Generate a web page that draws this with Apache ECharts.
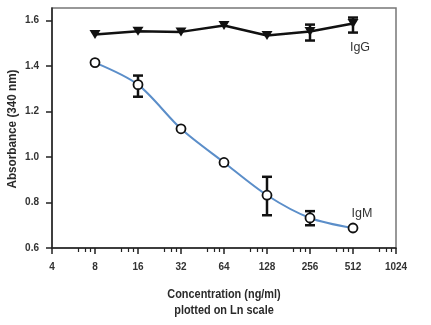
<!DOCTYPE html>
<html><head><meta charset="utf-8">
<script src="https://cdn.jsdelivr.net/npm/echarts@6/dist/echarts.min.js"></script>
<style>html,body{margin:0;padding:0;background:#fff}#c{width:431px;height:325px}</style>
</head><body><div id="c"></div>
<script>
const concentrations = [8, 16, 32, 64, 128, 256, 512];
const igG = [1.538, 1.553, 1.55, 1.578, 1.534, 1.552, 1.587];
const igM = [1.415, 1.318, 1.124, 0.976, 0.832, 0.732, 0.688];
const igGErrLow  = [null, null, null, null, null, 1.512, 1.547];
const igGErrHigh = [null, null, null, null, null, 1.582, 1.613];
const igMErrLow  = [null, 1.265, null, null, 0.744, 0.700, null];
const igMErrHigh = [null, 1.358, null, null, 0.913, 0.762, null];
const xTicks = [4, 8, 16, 32, 64, 128, 256, 512, 1024];
const yTicks = [0.6, 0.8, 1.0, 1.2, 1.4, 1.6];
const minorFactors = [1.52, 1.72, 1.84];
const xTitle = 'Concentration (ng/ml)\nplotted on Ln scale';
const yTitle = 'Absorbance (340 nm)';

const FONT = '"Liberation Sans", Arial, sans-serif';
const minorTicks = [];
xTicks.slice(0, -1).forEach(b => minorFactors.forEach(f => minorTicks.push(b * f)));

function errData(lo, hi) {
  const out = [];
  concentrations.forEach((c, i) => { if (lo[i] != null) out.push([c, lo[i], hi[i]]); });
  return out;
}
function errRender(params, api) {
  const x = api.value(0);
  const p1 = api.coord([x, api.value(1)]);
  const p2 = api.coord([x, api.value(2)]);
  const w = 5;
  const st = { stroke: '#111', lineWidth: 2.5 };
  return { type: 'group', children: [
    { type: 'line', shape: { x1: p1[0], y1: p1[1], x2: p2[0], y2: p2[1] }, style: st },
    { type: 'line', shape: { x1: p1[0] - w, y1: p1[1], x2: p1[0] + w, y2: p1[1] }, style: st },
    { type: 'line', shape: { x1: p2[0] - w, y1: p2[1], x2: p2[0] + w, y2: p2[1] }, style: st }
  ]};
}

const chart = echarts.init(document.getElementById('c'), null, { renderer: 'canvas' });
const lastIdx = concentrations.length - 1;
const seriesLabel = (txt, off) => ({ show: true, formatter: txt, position: 'inside', offset: off,
  color: '#333', fontFamily: FONT, fontSize: 12.5 });
chart.setOption({
  animation: false,
  grid: { left: 52, right: 35, top: 8, bottom: 77, show: true, borderColor: '#777', borderWidth: 1.5 },
  graphic: [
    { type: 'text', x: 224, y: 286, scaleX: 0.84, z: 10,
      style: { text: xTitle, align: 'center', verticalAlign: 'top', fill: '#2a2a2a',
        font: 'bold 13px ' + FONT, lineHeight: 16 } },
    { type: 'text', x: 12.5, y: 129, rotation: Math.PI / 2, scaleX: 0.9, z: 10,
      style: { text: yTitle, align: 'center', verticalAlign: 'middle', fill: '#2a2a2a',
        font: 'bold 13px ' + FONT } }
  ],
  xAxis: [{
    type: 'log', logBase: 2, min: 4, max: 1024, position: 'bottom',
    axisLine: { show: true, lineStyle: { color: '#222', width: 1.5 } },
    axisTick: { show: true, length: 6, lineStyle: { color: '#222', width: 1.5 }, customValues: xTicks },
    axisLabel: { color: '#333', fontFamily: FONT, fontSize: 10, fontWeight: 'bold', margin: 14,
      customValues: xTicks, formatter: v => String(Math.round(v)) },
    splitLine: { show: false }
  }, {
    type: 'log', logBase: 2, min: 4, max: 1024, position: 'bottom',
    axisLine: { show: false },
    axisTick: { show: true, length: 4, lineStyle: { color: '#222', width: 1.2 }, customValues: minorTicks },
    axisLabel: { show: false }, splitLine: { show: false }
  }],
  yAxis: {
    type: 'value', min: 0.6, max: 1.655,
    axisLine: { show: true, lineStyle: { color: '#222', width: 1.5 } },
    axisTick: { show: true, length: 6, lineStyle: { color: '#222', width: 1.5 }, customValues: yTicks },
    axisLabel: { color: '#333', fontFamily: FONT, fontSize: 10, fontWeight: 'bold', margin: 13,
      customValues: yTicks, formatter: v => v.toFixed(1) },
    splitLine: { show: false }
  },
  series: [
    { type: 'custom', renderItem: errRender, data: errData(igMErrLow, igMErrHigh), z: 1, encode: { x: 0, y: [1, 2] } },
    { type: 'custom', renderItem: errRender, data: errData(igGErrLow, igGErrHigh), z: 1, encode: { x: 0, y: [1, 2] } },
    {
      type: 'line', name: 'IgG', z: 3,
      data: concentrations.map((c, i) => i === lastIdx ? { value: [c, igG[i]], label: seriesLabel('IgG', [7, 24]) } : [c, igG[i]]),
      lineStyle: { color: '#111', width: 2.5 },
      symbol: 'triangle', symbolRotate: 180, symbolSize: [11, 9],
      itemStyle: { color: '#111' }
    },
    {
      type: 'line', name: 'IgM', z: 3, smooth: 0.3,
      data: concentrations.map((c, i) => i === lastIdx ? { value: [c, igM[i]], label: seriesLabel('IgM', [9, -14]) } : [c, igM[i]]),
      lineStyle: { color: '#5b8ec9', width: 2 },
      symbol: 'circle', symbolSize: 9, showAllSymbol: true,
      itemStyle: { color: '#fff', borderColor: '#111', borderWidth: 1.8 }
    }
  ]
});
</script></body></html>
